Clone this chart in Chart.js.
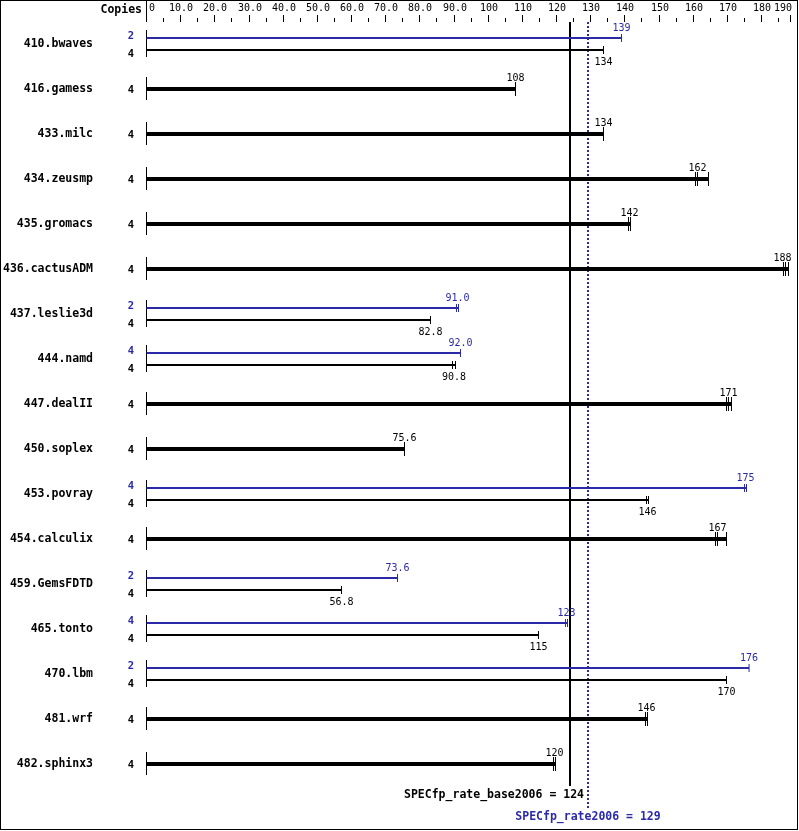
<!DOCTYPE html>
<html><head><meta charset="utf-8">
<script src="https://cdn.jsdelivr.net/npm/chart.js@4.4.1/dist/chart.umd.min.js"></script>
<style>html,body{margin:0;padding:0;background:#fff;}canvas{display:block;}</style>
</head><body>
<canvas id="c" width="799" height="831"></canvas>
<script>
const benchmarks = ['410.bwaves','416.gamess','433.milc','434.zeusmp','435.gromacs','436.cactusADM','437.leslie3d','444.namd','447.dealII','450.soplex','453.povray','454.calculix','459.GemsFDTD','465.tonto','470.lbm','481.wrf','482.sphinx3'];
const baseCopies = [4,4,4,4,4,4,4,4,4,4,4,4,4,4,4,4,4];
const peakCopies = [2,null,null,null,null,null,2,4,null,null,4,null,2,4,2,null,null];
const baseValues = [134,108,134,162,142,188,82.8,90.8,171,75.6,146,167,56.8,115,170,146,120];
const peakValues = [139,null,null,null,null,null,91.0,92.0,null,null,175,null,73.6,123,176,null,null];
const baseRuns = [
  [133.75],[108.0],[133.75],[160.68,161.27,164.48],[141.07,141.66],[186.43,187.02,187.90],
  [83.12],[89.56,90.44],[169.75,170.33,171.21],[75.51],[146.34,146.93],[166.53,167.12,169.75],
  [57.07],[114.73],[169.75],[146.05,146.63],[119.12,119.70]
];
const peakRuns = [
  [139.02],null,null,null,null,null,[90.73,91.32],[91.90],null,null,[175.02,175.61],null,
  [73.46],[122.63,123.22],[176.36],null,null
];
const axisTicks = [0,10,20,30,40,50,60,70,80,90,100,110,120,130,140,150,160,170,180,190];
const axisMinorTicks = [5,15,25,35,45,55,65,75,85,95,105,115,125,135,145,155,165,175,185];
const axisMax = 188.5;
const baseRate = 124;
const peakRate = 129;

const BLUE = '#2a2aa8';
const FONT = '"DejaVu Sans Mono", monospace';
const PAIR_OFF = 6/45;

function fmt(v){ return v < 100 ? v.toFixed(1) : String(Math.round(v)); }
function median(a){ const s=[...a].sort((p,q)=>p-q); const n=s.length; return n%2 ? s[(n-1)/2] : (s[n/2-1]+s[n/2])/2; }

const datasets = [];
benchmarks.forEach((b,i)=>{
  const hasPeak = peakValues[i] != null;
  const yb = hasPeak ? i + PAIR_OFF : i;
  const yp = i - PAIR_OFF;
  if (hasPeak) {
    const pmax = Math.max(...peakRuns[i]);
    datasets.push({data:[{x:0,y:yp},{x:pmax,y:yp}], showLine:true, borderColor:BLUE, borderWidth:2, pointRadius:0, clip:false});
    datasets.push({data:peakRuns[i].map(v=>({x:v,y:yp})), showLine:false, pointStyle:'line', pointRotation:90, pointRadius:4, pointBorderColor:BLUE, pointBorderWidth:1, clip:false});
  }
  const bmax = Math.max(...baseRuns[i]);
  datasets.push({data:[{x:0,y:yb},{x:bmax,y:yb}], showLine:true, borderColor:'#000', borderWidth:hasPeak?2:4, pointRadius:0, clip:false});
  datasets.push({data:baseRuns[i].map(v=>({x:v,y:yb})), showLine:false, pointStyle:'line', pointRotation:90, pointRadius:hasPeak?4:7, pointBorderColor:'#000', pointBorderWidth:1, clip:false});
});

function vline(ctx,x,y1,y2){ ctx.beginPath(); ctx.moveTo(x,y1); ctx.lineTo(x,y2); ctx.stroke(); }

const overlay = {
  id:'overlay',
  beforeDraw(chart){
    const c = chart.ctx; c.save(); c.fillStyle='#fff'; c.fillRect(0,0,chart.width,chart.height); c.restore();
  },
  beforeDatasetsDraw(chart){
    const ctx = chart.ctx, xs = chart.scales.x, ys = chart.scales.y;
    ctx.save();
    ctx.strokeStyle='#000'; ctx.lineWidth=1;
    ctx.strokeRect(0.5,0.5,chart.width-2,chart.height-2);
    const x0 = Math.floor(xs.getPixelForValue(0))+0.5;
    vline(ctx,x0,0,22);
    ctx.fillStyle='#000';
    ctx.font = '10px ' + FONT;
    ctx.textBaseline='alphabetic';
    axisTicks.forEach((v,k)=>{
      const last = k === axisTicks.length-1;
      const px = Math.floor(xs.getPixelForValue(last ? xs.max : v))+0.5;
      if (v !== 0) vline(ctx,px,15,22);
      const lab = v === 0 ? '0' : fmt(v);
      if (v === 0) { ctx.textAlign='left'; ctx.fillText(lab, px+2.5, 11); }
      else if (last) { ctx.textAlign='right'; ctx.fillText(lab, px+1.5, 11); }
      else { ctx.textAlign='center'; ctx.fillText(lab, px+0.5, 11); }
    });
    axisMinorTicks.forEach(v=>{
      const px = Math.floor(xs.getPixelForValue(v))+0.5;
      vline(ctx,px,18,22);
    });
    ctx.font = 'bold 11.5px ' + FONT;
    ctx.textAlign='right';
    ctx.fillText('Copies', 142, 13);
    benchmarks.forEach((b,i)=>{
      const yc = ys.getPixelForValue(i);
      if (peakValues[i] != null) vline(ctx,x0,yc-14,yc+13);
      else vline(ctx,x0,yc-12,yc+11);
    });
    const xb = Math.round(xs.getPixelForValue(baseRate));
    ctx.lineWidth=2;
    vline(ctx,xb,22,786);
    const xp = Math.round(xs.getPixelForValue(peakRate))+1;
    ctx.strokeStyle=BLUE; ctx.setLineDash([2,2]);
    vline(ctx,xp,22,808);
    ctx.setLineDash([]);
    ctx.restore();
  },
  afterDatasetsDraw(chart){
    const ctx = chart.ctx, xs = chart.scales.x, ys = chart.scales.y;
    ctx.save();
    ctx.textBaseline='alphabetic';
    const rightLim = xs.right + 1;
    function valueLabel(v, runs, yBase, color){
      ctx.font = '10px ' + FONT;
      ctx.fillStyle = color;
      const t = fmt(v);
      const w = ctx.measureText(t).width;
      let cx = xs.getPixelForValue(median(runs));
      if (cx + w/2 > rightLim) cx = rightLim - w/2;
      ctx.textAlign='center';
      ctx.fillText(t, cx, yBase);
    }
    benchmarks.forEach((b,i)=>{
      const hasPeak = peakValues[i] != null;
      const yc = ys.getPixelForValue(i);
      ctx.font = 'bold 11.5px ' + FONT;
      ctx.fillStyle='#000'; ctx.textAlign='right';
      ctx.fillText(b, 93, yc+3);
      ctx.font = 'bold 10.5px ' + FONT;
      if (hasPeak) {
        const ypPix = ys.getPixelForValue(i - PAIR_OFF);
        const ybPix = ys.getPixelForValue(i + PAIR_OFF);
        ctx.fillStyle = BLUE; ctx.fillText(String(peakCopies[i]), 134, ypPix+1);
        ctx.fillStyle = '#000'; ctx.fillText(String(baseCopies[i]), 134, ybPix+7);
        valueLabel(peakValues[i], peakRuns[i], ypPix-7, BLUE);
        valueLabel(baseValues[i], baseRuns[i], ybPix+15, '#000');
      } else {
        ctx.fillStyle = '#000'; ctx.fillText(String(baseCopies[i]), 134, yc+4);
        valueLabel(baseValues[i], baseRuns[i], yc-8, '#000');
      }
    });
    const xp = Math.round(xs.getPixelForValue(peakRate))+1;
    ctx.font = 'bold 11.5px ' + FONT;
    ctx.fillStyle='#000'; ctx.textAlign='right';
    ctx.fillText('SPECfp_rate_base2006 = ' + baseRate, xp-4, 798);
    ctx.fillStyle=BLUE; ctx.textAlign='center';
    ctx.fillText('SPECfp_rate2006 = ' + peakRate, xp, 820);
    ctx.restore();
  }
};

new Chart(document.getElementById('c'), {
  type:'scatter',
  data:{datasets},
  options:{
    responsive:false, animation:false, devicePixelRatio:1, events:[],
    layout:{padding:{left:146.5, right:8.45, top:21.5, bottom:44.5}},
    scales:{
      x:{type:'linear', min:0, max:axisMax, display:false},
      y:{type:'linear', min:-0.5, max:16.5, reverse:true, display:false}
    },
    plugins:{legend:{display:false}, tooltip:{enabled:false}, title:{display:false}}
  },
  plugins:[overlay]
});
</script>
</body></html>
